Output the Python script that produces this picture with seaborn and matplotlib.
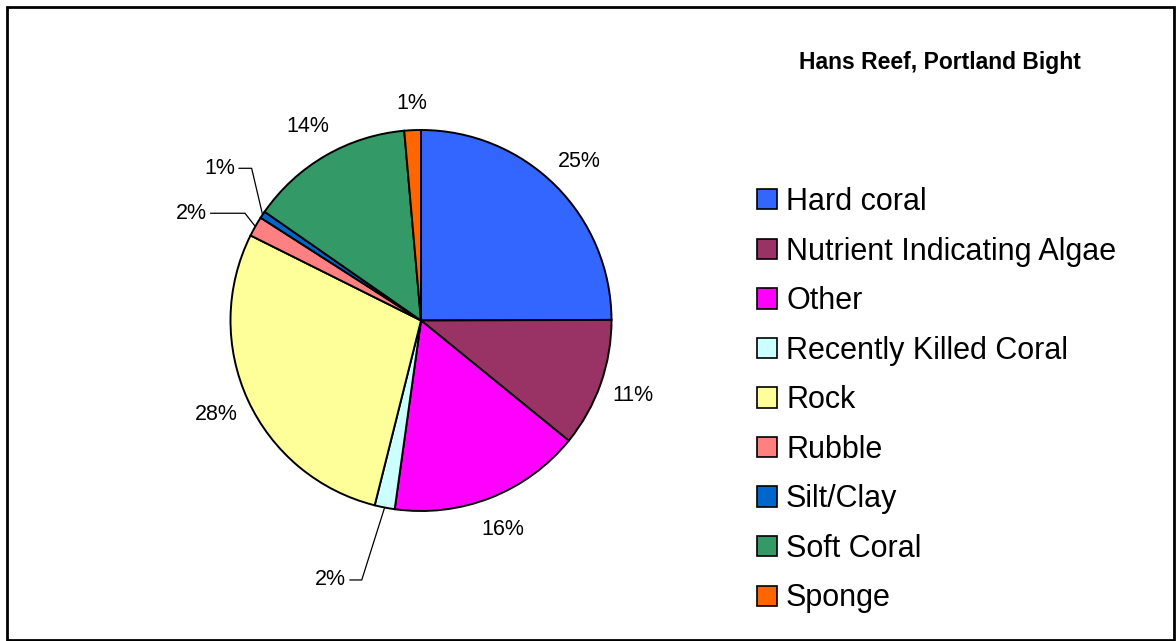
import numpy as np
import matplotlib
matplotlib.use("Agg")
import matplotlib.pyplot as plt
import seaborn as sns

categories = ["Hard coral", "Nutrient Indicating Algae", "Other", "Recently Killed Coral",
              "Rock", "Rubble", "Silt/Clay", "Soft Coral", "Sponge"]
values = [24.9, 10.9, 16.3, 1.7, 28.4, 1.7, 0.6, 13.9, 1.4]
colors = ["#3366FF", "#993366", "#FF00FF", "#CCFFFF", "#FFFF99",
          "#FF8080", "#0066CC", "#339966", "#FF6600"]
title = "Hans Reef, Portland Bight"

sns.set_theme(style="white")
plt.rcParams["font.family"] = ["Liberation Sans", "DejaVu Sans"]
plt.rcParams["text.color"] = "black"

W, H = 1176, 641
fig = plt.figure(figsize=(W / 100, H / 100), dpi=100)
fig.patch.set_facecolor("white")

# outer frame
frame = plt.Rectangle((6.5 / W, 1 - 640 / H), (1174 - 6.5) / W, (640 - 7) / H,
                      transform=fig.transFigure, fill=False, edgecolor="black", lw=2)
fig.add_artist(frame)

cx, cy, R = 421, 320.5, 190.5
ax = fig.add_axes([(cx - R) / W, (H - cy - R) / H, 2 * R / W, 2 * R / H])
ax.set_xlim(-1, 1)
ax.set_ylim(-1, 1)
ax.set_aspect("equal")
ax.axis("off")

wedges, _ = ax.pie(values, colors=colors, startangle=90, counterclock=False, radius=1.0,
                   wedgeprops=dict(edgecolor="black", linewidth=1.4),
                   frame=False)
ax.set_xlim(-1, 1)
ax.set_ylim(-1, 1)

total = sum(values)
pcts = [f"{round(v / total * 100):.0f}%" for v in values]

# leader-line label placement for small slices: (text x, text y, elbow x)
leader = {
    3: (-0.394, -1.362, -0.311),
    5: (-1.125, 0.563, -0.924),
    6: (-0.976, 0.799, -0.889),
}
for i, w in enumerate(wedges):
    mid = np.deg2rad((w.theta1 + w.theta2) / 2)
    if i in leader:
        tx, ty, ex = leader[i]
        px, py = np.cos(mid), np.sin(mid)
        ax.plot([tx + 0.02, ex, px], [ty, ty, py], color="black", lw=0.9,
                clip_on=False, solid_joinstyle="miter")
        ax.text(tx, ty, pcts[i], ha="right", va="center", fontsize=15.5, color="black")
    else:
        r = 1.14 if i == 8 else 1.18
        ax.text(r * np.cos(mid), r * np.sin(mid), pcts[i], ha="center", va="center",
                fontsize=15.5, color="black")

fig.text(939.5 / W, 1 - 63 / H, title, ha="center", va="center",
         fontsize=16.5, fontweight="bold", color="black")

leg = fig.legend(wedges, categories, loc="upper left",
                 bbox_to_anchor=(757 / W, 1 - 187 / H), frameon=False,
                 fontsize=22, handlelength=0.65, handleheight=0.65,
                 handletextpad=0.3, labelspacing=0.64, borderpad=0, borderaxespad=0,
                 labelcolor="black")
for h in leg.legend_handles:
    h.set_edgecolor("black")
    h.set_linewidth(1.2)

fig.savefig("out.png", dpi=100, facecolor="white")
